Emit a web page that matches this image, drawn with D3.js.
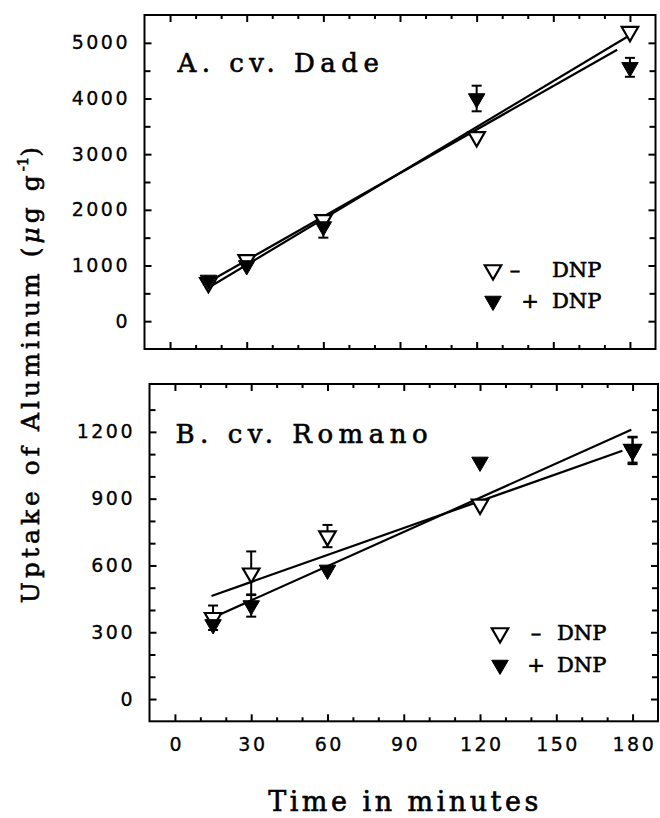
<!DOCTYPE html>
<html>
<head>
<meta charset="utf-8">
<script src="https://cdn.jsdelivr.net/npm/d3@7/dist/d3.min.js"></script>
<style>
body { margin: 0; background: #fff; }
.tick text { font-family: "DejaVu Sans", sans-serif; font-size: 19px; letter-spacing: 2.5px; fill: #000; stroke: #000; stroke-width: 0.3px; }
.serif { font-family: "DejaVu Serif", serif; fill: #000; stroke: #000; stroke-width: 0.6px; }
</style>
</head>
<body>
<div id="chart-area"></div>
<script>
// sampling times (min) and axis ticks
var times = [15, 30, 60, 120, 180];
var xTicks = [0, 30, 60, 90, 120, 150, 180];
var xMinorTicks = [10, 20, 40, 50, 70, 80, 100, 110, 130, 140, 160, 170];
var dadeYTicks = [0, 1000, 2000, 3000, 4000, 5000];
var dadeYMinor = [500, 1500, 2500, 3500, 4500];
var romanoYTicks = [0, 300, 600, 900, 1200];
var romanoYMinor = [100, 200, 400, 500, 700, 800, 1000, 1100, 1300];

// A. cv. Dade
var dadeMinus = [690, 1100, 1820, 3310, 5200];
var dadeMinusErr = [0, 0, 0, 0, 0];
var dadePlus = [740, 1000, 1700, 4000, 4560];
var dadePlusErr = [0, 0, 200, 230, 170];
var dadeMinusFit = [[14.5, 586], [178.8, 5106]];
var dadePlusFit = [[14.5, 690], [175, 4876]];

// B. cv. Romano
var romanoMinus = [365, 565, 732, 874, 1120];
var romanoMinusErr = [55, 98, 50, 0, 58];
var romanoPlus = [335, 420, 580, 1065, 1115];
var romanoPlusErr = [0, 50, 0, 0, 60];
var romanoMinusFit = [[14.4, 463], [176, 1115]];
var romanoPlusFit = [[15.7, 370], [179.5, 1209]];

var xDomain = [-10, 190];

var panels = [
    { left: 144.5, top: 15, width: 511, height: 334, yDomain: [-500, 5500],
      yTicks: dadeYTicks, yMinor: dadeYMinor, title: "A. cv. Dade", titleX: 33, titleY: 57,
      minus: dadeMinus, minusErr: dadeMinusErr, plus: dadePlus, plusErr: dadePlusErr,
      minusFit: dadeMinusFit, plusFit: dadePlusFit, xLabels: false,
      leg: { tri: 348.5, row1: 262, row2: 293, minusX: 370.5, plusX: 385.5, textX: 407.5 } },
    { left: 149.5, top: 384, width: 508.5, height: 337.3, yDomain: [-100, 1415],
      yTicks: romanoYTicks, yMinor: romanoYMinor, title: "B. cv. Romano", titleX: 26, titleY: 59,
      minus: romanoMinus, minusErr: romanoMinusErr, plus: romanoPlus, plusErr: romanoPlusErr,
      minusFit: romanoMinusFit, plusFit: romanoPlusFit, xLabels: true,
      leg: { tri: 350.5, row1: 256, row2: 288, minusX: 386.5, plusX: 386.5, textX: 407.5 } }
];

var svg = d3.select("#chart-area").append("svg")
    .attr("width", 660)
    .attr("height", 818);

var tri = d3.symbol().type(d3.symbolTriangle).size(118);
var fmt = d3.format("d");

panels.forEach(function(p) {
    var g = svg.append("g").attr("transform", "translate(" + p.left + "," + p.top + ")");
    var x = d3.scaleLinear().domain(xDomain).range([0, p.width]);
    var y = d3.scaleLinear().domain(p.yDomain).range([p.height, 0]);

    // minor ticks, all four sides, inward
    g.append("g").call(d3.axisLeft(y).tickValues(p.yMinor).tickSize(-6).tickSizeOuter(0).tickFormat(""));
    g.append("g").attr("transform", "translate(" + p.width + ",0)")
        .call(d3.axisRight(y).tickValues(p.yMinor).tickSize(-6).tickSizeOuter(0).tickFormat(""));
    g.append("g").attr("transform", "translate(0," + p.height + ")")
        .call(d3.axisBottom(x).tickValues(xMinorTicks).tickSize(-4).tickSizeOuter(0).tickFormat(""));
    g.append("g").call(d3.axisTop(x).tickValues(xMinorTicks).tickSize(-4).tickSizeOuter(0).tickFormat(""));

    // major ticks
    var yAxis = g.append("g").attr("class", "y axis")
        .call(d3.axisLeft(y).tickValues(p.yTicks).tickSize(-7).tickSizeOuter(0).tickPadding(17).tickFormat(fmt));
    yAxis.selectAll("text").attr("dx", 2.5);
    g.append("g").attr("transform", "translate(" + p.width + ",0)")
        .call(d3.axisRight(y).tickValues(p.yTicks).tickSize(-7).tickSizeOuter(0).tickFormat(""));
    var xAxis = g.append("g").attr("class", "x axis").attr("transform", "translate(0," + p.height + ")")
        .call(d3.axisBottom(x).tickValues(xTicks).tickSize(-7).tickSizeOuter(0).tickPadding(16).tickFormat(fmt));
    if (!p.xLabels) xAxis.selectAll("text").remove();
    else xAxis.selectAll("text").attr("dx", 1.25);
    g.append("g").call(d3.axisTop(x).tickValues(xTicks).tickSize(-7).tickSizeOuter(0).tickFormat(""));

    g.selectAll(".domain").remove();
    g.selectAll(".tick line").attr("stroke", "#000").attr("stroke-width", 2);

    // frame
    g.append("rect")
        .attr("width", p.width)
        .attr("height", p.height)
        .attr("fill", "none")
        .attr("stroke", "#000")
        .attr("stroke-width", 2);

    // title
    g.append("text")
        .attr("class", "serif")
        .attr("x", p.titleX)
        .attr("y", p.titleY)
        .attr("font-size", "26px")
        .attr("letter-spacing", "5.5px")
        .text(p.title);

    // fitted lines
    var line = d3.line().x(function(d) { return x(d[0]); }).y(function(d) { return y(d[1]); });
    [p.minusFit, p.plusFit].forEach(function(f) {
        g.append("path")
            .attr("d", line(f))
            .attr("fill", "none")
            .attr("stroke", "#000")
            .attr("stroke-width", 2.2);
    });

    // error bars
    function errBars(vals, errs) {
        var data = times.map(function(t, i) { return { t: t, v: vals[i], e: errs[i] }; })
            .filter(function(d) { return d.e > 0; });
        var eb = g.append("g").selectAll("g").data(data).enter().append("g")
            .attr("stroke", "#000").attr("stroke-width", 2);
        eb.append("line")
            .attr("x1", function(d) { return x(d.t); })
            .attr("x2", function(d) { return x(d.t); })
            .attr("y1", function(d) { return y(d.v - d.e); })
            .attr("y2", function(d) { return y(d.v + d.e); });
        [-1, 1].forEach(function(s) {
            eb.append("line")
                .attr("x1", function(d) { return x(d.t) - 5; })
                .attr("x2", function(d) { return x(d.t) + 5; })
                .attr("y1", function(d) { return y(d.v + s * d.e); })
                .attr("y2", function(d) { return y(d.v + s * d.e); });
        });
    }
    errBars(p.minus, p.minusErr);
    errBars(p.plus, p.plusErr);

    // markers
    g.append("g").selectAll("path").data(p.minus).enter().append("path")
        .attr("d", tri)
        .attr("transform", function(d, i) { return "translate(" + x(times[i]) + "," + y(d) + ") rotate(180)"; })
        .attr("fill", "#fff")
        .attr("stroke", "#000")
        .attr("stroke-width", 2.2);
    g.append("g").selectAll("path").data(p.plus).enter().append("path")
        .attr("d", tri)
        .attr("transform", function(d, i) { return "translate(" + x(times[i]) + "," + y(d) + ") rotate(180)"; })
        .attr("fill", "#000")
        .attr("stroke", "#000")
        .attr("stroke-width", 1);

    // legend
    var lg = p.leg;
    g.append("path").attr("d", tri)
        .attr("transform", "translate(" + lg.tri + "," + (lg.row1 - 7) + ") rotate(180)")
        .attr("fill", "#fff").attr("stroke", "#000").attr("stroke-width", 2.2);
    g.append("path").attr("d", tri)
        .attr("transform", "translate(" + lg.tri + "," + (lg.row2 - 7) + ") rotate(180)")
        .attr("fill", "#000").attr("stroke", "#000").attr("stroke-width", 1);
    [[lg.minusX, lg.row1, "\u2013"], [lg.plusX, lg.row2, "+"]].forEach(function(r) {
        g.append("text").attr("class", "serif")
            .attr("x", r[0]).attr("y", r[1])
            .attr("font-size", "21px")
            .attr("text-anchor", "middle")
            .text(r[2]);
        g.append("text").attr("class", "serif")
            .attr("x", lg.textX).attr("y", r[1])
            .attr("font-size", "21px")
            .text("DNP");
    });
});

// axis titles
svg.append("text")
    .attr("class", "serif")
    .attr("x", 405)
    .attr("y", 811)
    .attr("font-size", "27px")
    .attr("letter-spacing", "3.5px")
    .attr("text-anchor", "middle")
    .text("Time in minutes");

var yLabel = svg.append("text")
    .attr("class", "serif")
    .attr("transform", "translate(39,373) rotate(-90)")
    .attr("font-size", "25px")
    .attr("letter-spacing", "4px")
    .attr("text-anchor", "middle");
yLabel.append("tspan").text("Uptake of Aluminum (");
yLabel.append("tspan").attr("font-style", "italic").text("\u03bc");
yLabel.append("tspan").text("g g");
yLabel.append("tspan").attr("font-size", "15px").attr("dy", -11).attr("letter-spacing", "0px").text("-1");
yLabel.append("tspan").attr("dy", 11).text(")");
</script>
</body>
</html>
